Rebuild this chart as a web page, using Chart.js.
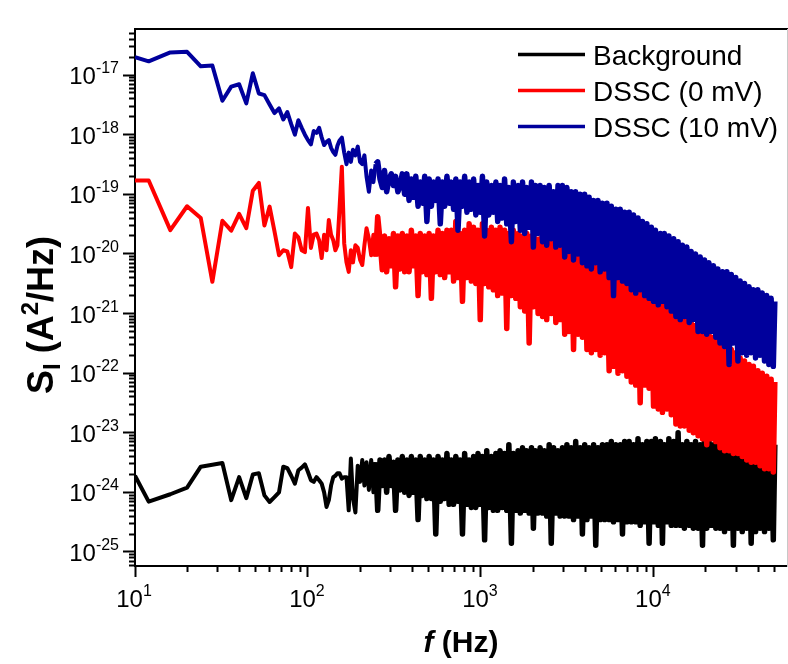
<!DOCTYPE html>
<html>
<head>
<meta charset="utf-8">
<title>Espectro de ruido</title>
<script src="https://cdn.jsdelivr.net/npm/chart.js@4.4.1/dist/chart.umd.min.js"></script>
<style>
	html, body { margin: 0; padding: 0; background: #fff; }
	#caixa { width: 788px; height: 664px; }
</style>
</head>
<body>
<div id="caixa"><canvas id="graficoRuido" width="788" height="664"></canvas></div>
<script>
// frequencias (Hz) - comuns as tres curvas
var frequencias = [
	10, 12, 16, 20, 24, 28, 32, 36, 40, 44, 48, 52, 56, 60, 64, 68, 72, 76, 80, 84,
	88, 92, 96, 100, 104, 108, 112, 116, 120, 124, 128, 132, 136, 140, 144, 148,
	152, 157, 162, 167, 172, 177, 182, 188, 194, 200,
	206, 212, 218, 225, 232, 239, 246, 253, 261, 269,
	277, 285, 294, 303, 312, 321, 331, 341, 351, 362,
	373, 384, 396, 408, 420, 433, 446, 459, 473, 487,
	502, 517, 532, 548, 565, 582, 599, 617, 636, 655,
	675, 695, 716, 737, 759, 782, 805, 830, 855, 880,
	907, 934, 962, 991, 1020, 1050, 1080, 1110, 1150, 1180,
	1220, 1250, 1290, 1330, 1370, 1410, 1450, 1500, 1540, 1590,
	1640, 1690, 1740, 1790, 1840, 1900, 1960, 2010, 2070, 2140,
	2200, 2270, 2330, 2400, 2480, 2550, 2630, 2710, 2790, 2870,
	2960, 3050, 3140, 3230, 3330, 3430, 3530, 3640, 3750, 3860,
	3980, 4100, 4220, 4350, 4480, 4610, 4750, 4890, 5040, 5190,
	5350, 5510, 5670, 5840, 6020, 6200, 6390, 6580, 6770, 6980,
	7190, 7400, 7620, 7850, 8090, 8330, 8580, 8840, 9100, 9380,
	9660, 9950, 10200, 10600, 10900, 11200, 11500, 11900, 12200, 12600,
	13000, 13400, 13800, 14200, 14600, 15000, 15500, 16000, 16400, 16900,
	17400, 18000, 18500, 19100, 19600, 20200, 20800, 21500, 22100, 22800,
	23400, 24100, 24900, 25600, 26400, 27200, 28000, 28800, 29700, 30600,
	31500, 32400, 33400, 34400, 35500, 36500, 37600, 38700, 39900, 41100,
	42300, 43600, 44900, 46200, 47600, 49000, 50000
];

// S_I (A^2/Hz) - Background
var ruidoFundo = [
	1.9e-24, 7e-25, 9.3e-25, 1.2e-24, 2.7e-24, 2.9e-24, 3.1e-24, 7.4e-25, 1.8e-24, 8e-25, 2e-24, 2.1e-24, 8.9e-25, 6.9e-25, 8.3e-25, 1e-24, 2.7e-24, 2.55e-24, 1.9e-24, 1.4e-24,
	2.35e-24, 2.6e-24, 2.95e-24, 2.2e-24, 1.6e-24, 1.5e-24, 1.8e-24, 1.6e-24, 1.4e-24, 1e-24, 5.7e-25, 7.4e-25, 1.3e-24, 1.8e-24, 1.9e-24, 2.1e-24,
	2.1e-24, 1.7e-24, 1.8e-24, 1.8e-24, 5e-25, 3.7e-24, 8e-25, 4.6e-25, 2.8e-24, 1.5e-24,
	3.5e-24, 1.3e-24, 3.2e-24, 1.1e-24, 3.5e-24, 1e-24, 3.2e-24, 5e-25, 3.5e-24, 1.3e-24,
	3.5e-24, 1e-24, 4e-24, 1.3e-24, 3.2e-24, 5e-25, 3.5e-24, 1.1e-24, 4e-24, 1e-24,
	3.5e-24, 8.9e-25, 4e-24, 1e-24, 3.5e-24, 3.5e-25, 4e-24, 8.9e-25, 3.5e-24, 7.9e-25,
	4e-24, 7.9e-25, 3.5e-24, 2e-25, 4e-24, 7.1e-25, 3.5e-24, 7.9e-25, 4.5e-24, 6.3e-25,
	3.5e-24, 6.3e-25, 4e-24, 7.1e-25, 3.5e-24, 2e-25, 4.5e-24, 6.3e-25, 3.5e-24, 5.6e-25,
	4e-24, 5.6e-25, 4.5e-24, 6.3e-25, 4e-24, 1.6e-25, 5e-24, 5.6e-25, 4e-24, 5e-25,
	4.5e-24, 5e-25, 5e-24, 5.6e-25, 4.5e-24, 5e-25, 6.3e-24, 1.4e-25, 4.5e-24, 5e-25,
	5e-24, 4.5e-25, 5.6e-24, 5e-25, 5e-24, 4.5e-25, 5.6e-24, 2.5e-25, 5e-24, 4.5e-25,
	5.6e-24, 4.5e-25, 5e-24, 4e-25, 6.3e-24, 1.4e-25, 5.6e-24, 4.5e-25, 5e-24, 4e-25,
	5.6e-24, 4e-25, 6.3e-24, 4e-25, 5.6e-24, 3.5e-25, 7.1e-24, 4e-25, 5.6e-24, 2e-25,
	6.3e-24, 3.5e-25, 5.6e-24, 4e-25, 6.3e-24, 1.3e-25, 5.6e-24, 3.5e-25, 6.3e-24, 3.5e-25,
	6.3e-24, 3.5e-25, 7.1e-24, 3.2e-25, 6.3e-24, 3.5e-25, 6.3e-24, 2e-25, 7.1e-24, 3.2e-25,
	7.1e-24, 3.2e-25, 6.3e-24, 3.2e-25, 7.9e-24, 2.8e-25, 6.3e-24, 3.2e-25, 7.1e-24, 1.4e-25,
	7.1e-24, 3.2e-25, 7.9e-24, 2.8e-25, 7.1e-24, 1.4e-25, 6.3e-24, 3.2e-25, 7.9e-24, 2.8e-25,
	7.1e-24, 2.8e-25, 1e-23, 2.8e-25, 6.3e-24, 2.5e-25, 7.1e-24, 2.8e-25, 6.3e-24, 2.5e-25,
	7.1e-24, 2.5e-25, 6.3e-24, 1.3e-25, 7.1e-24, 2.5e-25, 7.9e-24, 2.8e-25, 6.3e-24, 2.5e-25,
	7.1e-24, 2.5e-25, 7.9e-24, 2.2e-25, 7.1e-24, 2.5e-25, 6.3e-24, 1.3e-25, 7.9e-24, 2.5e-25,
	7.9e-24, 2.2e-25, 7.1e-24, 2.5e-25, 8.9e-24, 1.4e-25, 7.1e-24, 2.2e-25, 7.9e-24, 2.5e-25,
	7.1e-24, 2.2e-25, 7.9e-24, 2.5e-25, 7.1e-24, 1.6e-25, 6.3e-24
];

// S_I (A^2/Hz) - DSSC (0 mV)
var ruidoDssc0 = [
	1.7e-19, 1.7e-19, 2.5e-20, 6.3e-20, 4e-20, 3.4e-21, 3.6e-20, 2.45e-20, 4.7e-20, 2.7e-20, 1.15e-19, 1.55e-19, 3e-20, 6.2e-20, 2.4e-20, 9.5e-21, 1.15e-20, 1.1e-20, 6e-21, 2.2e-20,
	1.9e-20, 1.15e-20, 1.07e-20, 5.9e-20, 1.26e-20, 2.1e-20, 2.2e-20, 1.7e-20, 8.5e-21, 2.1e-20, 1.15e-20, 3.7e-20, 2.1e-20, 1.7e-20, 1.15e-20, 1.4e-20,
	5.4e-20, 2.9e-19, 1.5e-20, 7.2e-21, 5e-21, 1.15e-20, 7.2e-21, 1.4e-20, 1.26e-20, 8e-21,
	6.5e-21, 1.4e-20, 2.7e-20, 1.8e-20, 9.5e-21, 2.1e-20, 9e-21, 4.2e-20, 1.7e-20, 5.4e-21,
	2e-20, 5e-21, 1.8e-20, 6.3e-21, 2.2e-20, 2.8e-21, 2e-20, 5.6e-21, 2.2e-20, 5e-21,
	2e-20, 5e-21, 2.5e-20, 6.3e-21, 2e-20, 2e-21, 2.2e-20, 5e-21, 2e-20, 4.5e-21,
	2.2e-20, 1.8e-21, 2e-20, 5e-21, 2.5e-20, 4.5e-21, 2.2e-20, 4e-21, 2.5e-20, 5e-21,
	2.5e-20, 3.5e-21, 3.5e-20, 4e-21, 2.2e-20, 1.6e-21, 2.5e-20, 4e-21, 3.2e-20, 3.5e-21,
	2.8e-20, 3.2e-21, 2.5e-20, 7.9e-22, 3.2e-20, 3.2e-21, 2.5e-20, 2.8e-21, 2.8e-20, 2.5e-21,
	2.5e-20, 2e-21, 2.8e-20, 2.2e-21, 2.5e-20, 5.6e-22, 2.2e-20, 2e-21, 2.5e-20, 1.8e-21,
	2.2e-20, 1.3e-21, 2e-20, 1.1e-21, 2.2e-20, 3.2e-22, 2e-20, 1.3e-21, 1.8e-20, 1e-21,
	1.8e-20, 8.9e-22, 1.6e-20, 7.9e-22, 1.8e-20, 1e-21, 1.6e-20, 7.1e-22, 1.4e-20, 7.9e-22,
	1.4e-20, 4.5e-22, 1.3e-20, 5e-22, 1.3e-20, 2.5e-22, 1.1e-20, 4.5e-22, 1e-20, 4e-22,
	7.9e-21, 2.5e-22, 7.1e-21, 2.2e-22, 6.3e-21, 2.5e-22, 6.3e-21, 2e-22, 5.6e-21, 2.2e-22,
	5e-21, 1.1e-22, 4.5e-21, 1.3e-22, 4e-21, 1e-22, 4e-21, 1.1e-22, 3.5e-21, 8.9e-23,
	3.2e-21, 7.1e-23, 3.2e-21, 6.3e-23, 2.8e-21, 3.2e-23, 2.5e-21, 6.3e-23, 2.2e-21, 5.6e-23,
	2e-21, 2.8e-23, 1.8e-21, 2.5e-23, 1.6e-21, 2.2e-23, 1.4e-21, 2.5e-23, 1.3e-21, 2e-23,
	1.1e-21, 1.4e-23, 1e-21, 1.3e-23, 8.9e-22, 1.3e-23, 7.9e-22, 1.1e-23, 7.1e-22, 1e-23,
	6.3e-22, 8.9e-24, 5.6e-22, 7.9e-24, 5e-22, 6.3e-24, 4.5e-22, 7.9e-24, 4e-22, 7.1e-24,
	3.5e-22, 5.6e-24, 3.2e-22, 5e-24, 2.8e-22, 5e-24, 2.5e-22, 4.5e-24, 2.2e-22, 4.5e-24,
	1.8e-22, 4e-24, 1.6e-22, 3.5e-24, 1.4e-22, 3.2e-24, 1.3e-22, 3.2e-24, 1.1e-22, 2.8e-24,
	1e-22, 2.5e-24, 8.9e-23, 2.5e-24, 7.9e-23, 2.2e-24, 7.1e-23
];

// S_I (A^2/Hz) - DSSC (10 mV)
var ruidoDssc10 = [
	2e-17, 1.7e-17, 2.4e-17, 2.45e-17, 1.4e-17, 1.45e-17, 3.7e-18, 6.4e-18, 7e-18, 3.35e-18, 1.07e-17, 4.9e-18, 4.6e-18, 3.2e-18, 2.3e-18, 2.75e-18, 1.8e-18, 2.4e-18, 1.5e-18, 1e-18,
	1.75e-18, 1.3e-18, 1e-18, 8.1e-19, 6.9e-19, 1.15e-18, 1.07e-18, 1.3e-18, 9e-19, 6.7e-19, 7.6e-19, 8.1e-19, 6e-19, 5.1e-19, 4.6e-19, 6.5e-19,
	7.9e-19, 8.9e-19, 5e-19, 3.2e-19, 5e-19, 3.5e-19, 5.6e-19, 4.5e-19, 6.3e-19, 3.5e-19,
	3.2e-19, 4.5e-19, 2e-19, 1.1e-19, 2.5e-19, 1.6e-19, 3.2e-19, 3.5e-19, 1.8e-19, 1.3e-19,
	2.5e-19, 1.1e-19, 1.8e-19, 2.2e-19, 1.4e-19, 2e-19, 1.1e-19, 1.4e-19, 2.2e-19, 1e-19,
	2.2e-19, 7.9e-20, 1.8e-19, 8.9e-20, 2e-19, 6.3e-20, 1.6e-19, 7.1e-20, 2e-19, 3.5e-20,
	1.8e-19, 6.3e-20, 1.6e-19, 7.9e-20, 1.8e-19, 3.2e-20, 1.6e-19, 6.3e-20, 2e-19, 7.1e-20,
	1.6e-19, 5.6e-20, 1.8e-19, 2.5e-20, 1.6e-19, 6.3e-20, 2e-19, 5e-20, 1.6e-19, 5.6e-20,
	1.8e-19, 4.5e-20, 1.4e-19, 5e-20, 2e-19, 2e-20, 1.6e-19, 4.5e-20, 1.4e-19, 5e-20,
	1.6e-19, 3.5e-20, 1.4e-19, 4e-20, 1.8e-19, 3.2e-20, 1.3e-19, 1.6e-20, 1.6e-19, 3.5e-20,
	1.4e-19, 2.5e-20, 1.6e-19, 2.2e-20, 1.3e-19, 2.8e-20, 1.6e-19, 1.3e-20, 1.4e-19, 2.2e-20,
	1.4e-19, 1.6e-20, 1.3e-19, 1.4e-20, 1.4e-19, 1.8e-20, 1.1e-19, 1.3e-20, 1.4e-19, 1.4e-20,
	1.4e-19, 8.9e-21, 1.3e-19, 1.1e-20, 1.1e-19, 7.9e-21, 1.1e-19, 1e-20, 1e-19, 7.1e-21,
	1e-19, 6.3e-21, 8.9e-20, 5.6e-21, 7.9e-20, 7.1e-21, 7.9e-20, 5e-21, 7.1e-20, 5.6e-21,
	7.1e-20, 4e-21, 6.3e-20, 2e-21, 5.6e-20, 4e-21, 5.6e-20, 3.5e-21, 5e-20, 3.2e-21,
	5e-20, 2.5e-21, 4.5e-20, 2.2e-21, 4e-20, 2.5e-21, 3.5e-20, 2e-21, 3.2e-20, 1.8e-21,
	2.8e-20, 1.6e-21, 2.5e-20, 1.4e-21, 2.2e-20, 1.6e-21, 2.2e-20, 1.3e-21, 2e-20, 1.1e-21,
	1.8e-20, 8.9e-22, 1.6e-20, 7.9e-22, 1.4e-20, 8.9e-22, 1.3e-20, 7.1e-22, 1.1e-20, 7.9e-22,
	1e-20, 5e-22, 8.9e-21, 5e-22, 7.9e-21, 4.5e-22, 7.1e-21, 5e-22, 6.3e-21, 4e-22,
	5.6e-21, 3.2e-22, 5e-21, 2.8e-22, 5e-21, 1.4e-22, 4.5e-21, 3.2e-22, 4e-21, 1.6e-22,
	3.5e-21, 2.2e-22, 3.2e-21, 2e-22, 2.8e-21, 2.2e-22, 2.5e-21, 1.8e-22, 2.5e-21, 2e-22,
	2.2e-21, 1.6e-22, 2e-21, 1.4e-22, 1.8e-21, 1.3e-22, 1.6e-21
];

var nomesSeries = ['Background', 'DSSC (0 mV)', 'DSSC (10 mV)'];
var coresSeries = ['#000000', '#ff0000', '#00009c'];

// expoentes das marcas principais (10^n)
var expoentesX = [1, 2, 3, 4];
var expoentesY = [-25, -24, -23, -22, -21, -20, -19, -18, -17];

var limiteX = { min: 10, max: 58800 };
var limiteY = { min: 5.82e-26, max: 5.92e-17 };

var FONTE = '"Liberation Sans", Arial, sans-serif';

function montarPontos(valores) {
	return frequencias.map(function(f, i) {
		return { x: f, y: valores[i] };
	});
}

function marcasPrincipais(expoentes) {
	return function(eixo) {
		eixo.ticks = expoentes.map(function(e) {
			return { value: Math.pow(10, e) };
		});
	};
}

function marcasMenores(eixo) {
	var marcas = [];
	var inicio = Math.floor(Math.log10(eixo.min));
	var fim = Math.ceil(Math.log10(eixo.max));
	for (var e = inicio; e <= fim; e++) {
		for (var k = 2; k <= 9; k++) {
			var v = k * Math.pow(10, e);
			if (v > eixo.min && v < eixo.max) {
				marcas.push({ value: v });
			}
		}
	}
	eixo.ticks = marcas;
}

function escrever(ctx, pecas, x, y, alinhamento) {
	var total = 0;
	pecas.forEach(function(p) {
		ctx.font = p.fonte;
		p.largura = ctx.measureText(p.texto).width;
		total += p.largura;
	});
	var cursor = x;
	if (alinhamento === 'right') cursor = x - total;
	if (alinhamento === 'center') cursor = x - total / 2;
	pecas.forEach(function(p) {
		ctx.font = p.fonte;
		ctx.fillText(p.texto, cursor, y + (p.dy || 0));
		cursor += p.largura;
	});
}

function potencia(expoente) {
	return [
		{ texto: '10', fonte: '24px ' + FONTE },
		{ texto: String(expoente), fonte: '16px ' + FONTE, dy: -11 }
	];
}

var textosGrafico = {
	id: 'textosGrafico',
	afterDraw: function(chart) {
		var ctx = chart.ctx;
		var eixoX = chart.scales.x;
		var eixoY = chart.scales.y;
		ctx.save();
		ctx.fillStyle = '#000';
		ctx.textBaseline = 'alphabetic';

		expoentesY.forEach(function(e) {
			var py = eixoY.getPixelForValue(Math.pow(10, e));
			escrever(ctx, potencia(e), 119, py + 9, 'right');
		});
		expoentesX.forEach(function(e) {
			var px = eixoX.getPixelForValue(Math.pow(10, e));
			escrever(ctx, potencia(e), px - 1, 607, 'center');
		});

		// titulo do eixo x
		escrever(ctx, [
			{ texto: 'f', fonte: 'italic bold 30px ' + FONTE },
			{ texto: ' (Hz)', fonte: 'bold 30px ' + FONTE }
		], (chart.chartArea.left + chart.chartArea.right) / 2, 652, 'center');

		// titulo do eixo y
		ctx.translate(53, 315);
		ctx.rotate(-Math.PI / 2);
		escrever(ctx, [
			{ texto: 'S', fonte: 'bold 36px ' + FONTE },
			{ texto: 'I', fonte: 'bold 24px ' + FONTE, dy: 7 },
			{ texto: ' (A', fonte: 'bold 36px ' + FONTE },
			{ texto: '2', fonte: 'bold 24px ' + FONTE, dy: -15 },
			{ texto: '/Hz)', fonte: 'bold 36px ' + FONTE }
		], 0, 0, 'center');
		ctx.restore();

		// legenda dentro da area do grafico
		ctx.save();
		ctx.font = '28px ' + FONTE;
		ctx.textBaseline = 'alphabetic';
		chart.data.datasets.forEach(function(ds, i) {
			var y = 54.5 + i * 36;
			ctx.strokeStyle = ds.borderColor;
			ctx.lineWidth = 3.5;
			ctx.beginPath();
			ctx.moveTo(518, y);
			ctx.lineTo(585, y);
			ctx.stroke();
			ctx.fillStyle = '#000';
			ctx.fillText(ds.label, 593, y + 10);
		});
		ctx.restore();
	}
};

function eixoLog(extra) {
	var base = {
		type: 'logarithmic',
		ticks: { display: false, autoSkip: false },
		grid: { drawOnChartArea: false, color: '#000', tickColor: '#000' },
		border: { display: false }
	};
	return Object.assign(base, extra);
}

// trecho denso do espectro: traco mais largo para fechar a faixa de ruido
function larguraTrecho(c) {
	return c.p0.parsed.x >= 240 ? 5.5 : undefined;
}

var ctx = document.getElementById('graficoRuido').getContext('2d');
var series = [ruidoFundo, ruidoDssc0, ruidoDssc10];

var graficoRuido = new Chart(ctx, {
	type: 'line',
	data: {
		datasets: series.map(function(valores, i) {
			return {
				label: nomesSeries[i],
				data: montarPontos(valores),
				borderColor: coresSeries[i],
				backgroundColor: coresSeries[i],
				borderWidth: 4,
				borderJoinStyle: 'round',
				segment: { borderWidth: larguraTrecho },
				pointRadius: 0,
				tension: 0,
				fill: false,
				order: 3 - i
			};
		})
	},
	options: {
		responsive: false,
		animation: false,
		devicePixelRatio: 1,
		layout: { padding: { top: 29, right: 1, bottom: 0, left: 0 } },
		plugins: {
			legend: { display: false },
			tooltip: { enabled: false }
		},
		scales: {
			x: eixoLog({
				position: 'bottom', weight: 1, min: limiteX.min, max: limiteX.max,
				border: { display: true, color: '#000', width: 2 },
				grid: { drawOnChartArea: false, tickLength: 11, tickWidth: 2, tickColor: '#000' },
				afterBuildTicks: marcasPrincipais(expoentesX),
				afterFit: function(eixo) { eixo.height = 98; }
			}),
			xMenor: eixoLog({
				position: 'bottom', weight: 0, min: limiteX.min, max: limiteX.max,
				grid: { drawOnChartArea: false, tickLength: 6, tickWidth: 2, tickColor: '#000' },
				afterBuildTicks: marcasMenores,
				afterFit: function(eixo) { eixo.height = 0; }
			}),
			xTopo: eixoLog({
				position: 'top', min: limiteX.min, max: limiteX.max,
				border: { display: true, color: '#000', width: 2 },
				grid: { display: false },
				afterFit: function(eixo) { eixo.height = 0; }
			}),
			y: eixoLog({
				position: 'left', weight: 1, min: limiteY.min, max: limiteY.max,
				border: { display: true, color: '#000', width: 2 },
				grid: { drawOnChartArea: false, tickLength: 12, tickWidth: 2, tickColor: '#000' },
				afterBuildTicks: marcasPrincipais(expoentesY),
				afterFit: function(eixo) { eixo.width = 135; }
			}),
			yMenor: eixoLog({
				position: 'left', weight: 0, min: limiteY.min, max: limiteY.max,
				grid: { drawOnChartArea: false, tickLength: 6, tickWidth: 2, tickColor: '#000' },
				afterBuildTicks: marcasMenores,
				afterFit: function(eixo) { eixo.width = 0; }
			}),
			yDireita: eixoLog({
				position: 'right', min: limiteY.min, max: limiteY.max,
				border: { display: true, color: '#c8c8c8', width: 1 },
				grid: { display: false },
				afterFit: function(eixo) { eixo.width = 0; }
			})
		}
	},
	plugins: [textosGrafico]
});
</script>
</body>
</html>
